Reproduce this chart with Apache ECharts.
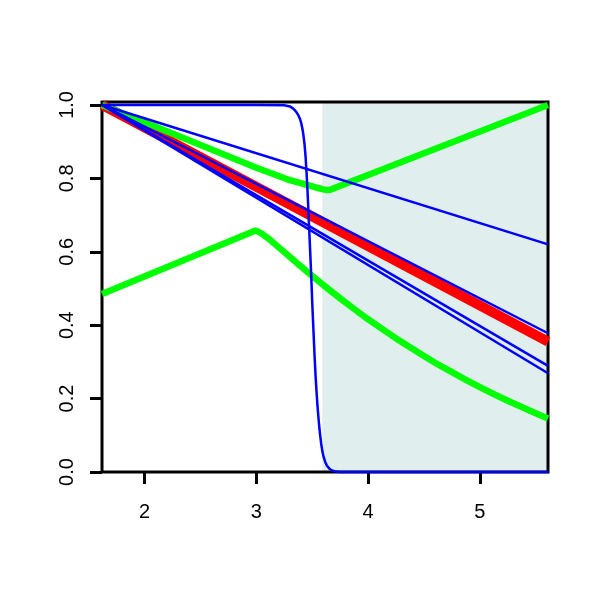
<!DOCTYPE html>
<html><head><meta charset="utf-8">
<script src="https://cdn.jsdelivr.net/npm/echarts@6/dist/echarts.min.js"></script>
<style>html,body{margin:0;padding:0;background:#fff}#c{width:600px;height:600px}</style>
</head><body><div id="c"></div>
<script>
// axis ranges and ticks
const xRange = [1.618, 5.61];
const yRange = [0, 1.008];
const xTicks = [2, 3, 4, 5];
const yTicks = [0, 0.2, 0.4, 0.6, 0.8, 1.0];

// shaded region
const shadeX = [3.59, 5.61];
const shadeY = [1.008, 1.008];

// straight lines (start/end)
const straightX = [1.618, 5.61];
const redY = [1.0, 0.355];
const blue1Y = [1.0, 0.620];
const blue2Y = [1.0, 0.378];
const blue3Y = [1.0, 0.289];
const blue4Y = [1.0, 0.269];

// steep blue drop
const sigX = [1.618, 3.0, 3.25, 3.30, 3.33, 3.355, 3.375, 3.39, 3.40, 3.41, 3.42, 3.43, 3.44, 3.45, 3.46, 3.47, 3.48, 3.49, 3.50, 3.51, 3.52, 3.53, 3.54, 3.55, 3.56, 3.57, 3.58, 3.59, 3.60, 3.615, 3.63, 3.65, 3.67, 3.70, 3.74, 5.61];
const sigY = [1.0, 1.0, 0.999, 0.996, 0.99, 0.982, 0.972, 0.962, 0.952, 0.938, 0.92, 0.895, 0.86, 0.81, 0.75, 0.68, 0.61, 0.54, 0.46, 0.39, 0.32, 0.26, 0.21, 0.168, 0.132, 0.102, 0.077, 0.057, 0.043, 0.028, 0.018, 0.010, 0.005, 0.002, 0.0, 0.0];

// upper green (V shape)
const gUx = [1.618, 2.0, 2.5, 3.0, 3.3, 3.5, 3.56, 3.6, 3.63, 3.66, 3.7, 5.61];
const gUy = [1.0, 0.953, 0.891, 0.829, 0.795, 0.778, 0.773, 0.770, 0.768, 0.769, 0.774, 1.0];

// lower green (peak)
const gLx = [1.618, 2.96, 2.985, 3.01, 3.05, 3.1, 3.25, 3.375, 3.5, 3.625, 3.75, 3.875, 4.0, 4.125, 4.25, 4.375, 4.5, 4.625, 4.75, 4.875, 5.0, 5.125, 5.25, 5.375, 5.5, 5.61];
const gLy = [0.485, 0.654, 0.657, 0.656, 0.649, 0.638, 0.599, 0.566, 0.534, 0.503, 0.473, 0.444, 0.416, 0.390, 0.364, 0.340, 0.316, 0.293, 0.272, 0.251, 0.231, 0.212, 0.194, 0.177, 0.160, 0.146];

const zip = (xs, ys) => xs.map((x, i) => [x, ys[i]]);
const font = '"Liberation Sans", Arial, Helvetica, sans-serif';

function line(xs, ys, color, width, z, extra) {
  return Object.assign({
    type: 'line', data: zip(xs, ys), showSymbol: false, symbol: 'none',
    lineStyle: { color: color, width: width, cap: 'butt', join: 'round' },
    z: z, animation: false, silent: true
  }, extra || {});
}

const chart = echarts.init(document.getElementById('c'), null, { renderer: 'canvas' });
chart.setOption({
  animation: false,
  backgroundColor: '#ffffff',
  grid: { left: 102, right: 52, top: 102, bottom: 128, show: true, borderColor: '#000', borderWidth: 3, backgroundColor: 'transparent', z: 1 },
  xAxis: {
    type: 'value', min: xRange[0], max: xRange[1],
    axisLine: { show: false },
    splitLine: { show: false },
    axisTick: { show: true, length: 12, lineStyle: { color: '#000', width: 3 }, customValues: xTicks },
    axisLabel: { show: true, margin: 30, color: '#000', fontSize: 20, fontFamily: font, customValues: xTicks, formatter: v => String(Math.round(v)) }
  },
  yAxis: {
    type: 'value', min: yRange[0], max: yRange[1],
    axisLine: { show: false },
    splitLine: { show: false },
    axisTick: { show: true, length: 12, lineStyle: { color: '#000', width: 3 }, customValues: yTicks },
    axisLabel: { show: true, rotate: 90, margin: 25, color: '#000', fontSize: 20, fontFamily: font, customValues: yTicks, formatter: v => v.toFixed(1) }
  },
  series: [
    { type: 'line', data: zip(shadeX, shadeY), symbol: 'none', showSymbol: false,
      lineStyle: { width: 0, opacity: 0 }, areaStyle: { color: '#E0EEEE', opacity: 1, origin: 'start' },
      z: 0, silent: true, animation: false },
    line(straightX, redY, '#FF0000', 10, 2),
    line(gUx, gUy, '#00FF00', 6.5, 3),
    line(gLx, gLy, '#00FF00', 6.5, 3),
    line(straightX, blue1Y, '#0000FF', 2.5, 4),
    line(straightX, blue2Y, '#0000FF', 2.5, 4),
    line(straightX, blue3Y, '#0000FF', 2.5, 4),
    line(straightX, blue4Y, '#0000FF', 2.5, 4),
    line(sigX, sigY, '#0000FF', 2.5, 4, { clip: false })
  ]
});
</script>
</body></html>
